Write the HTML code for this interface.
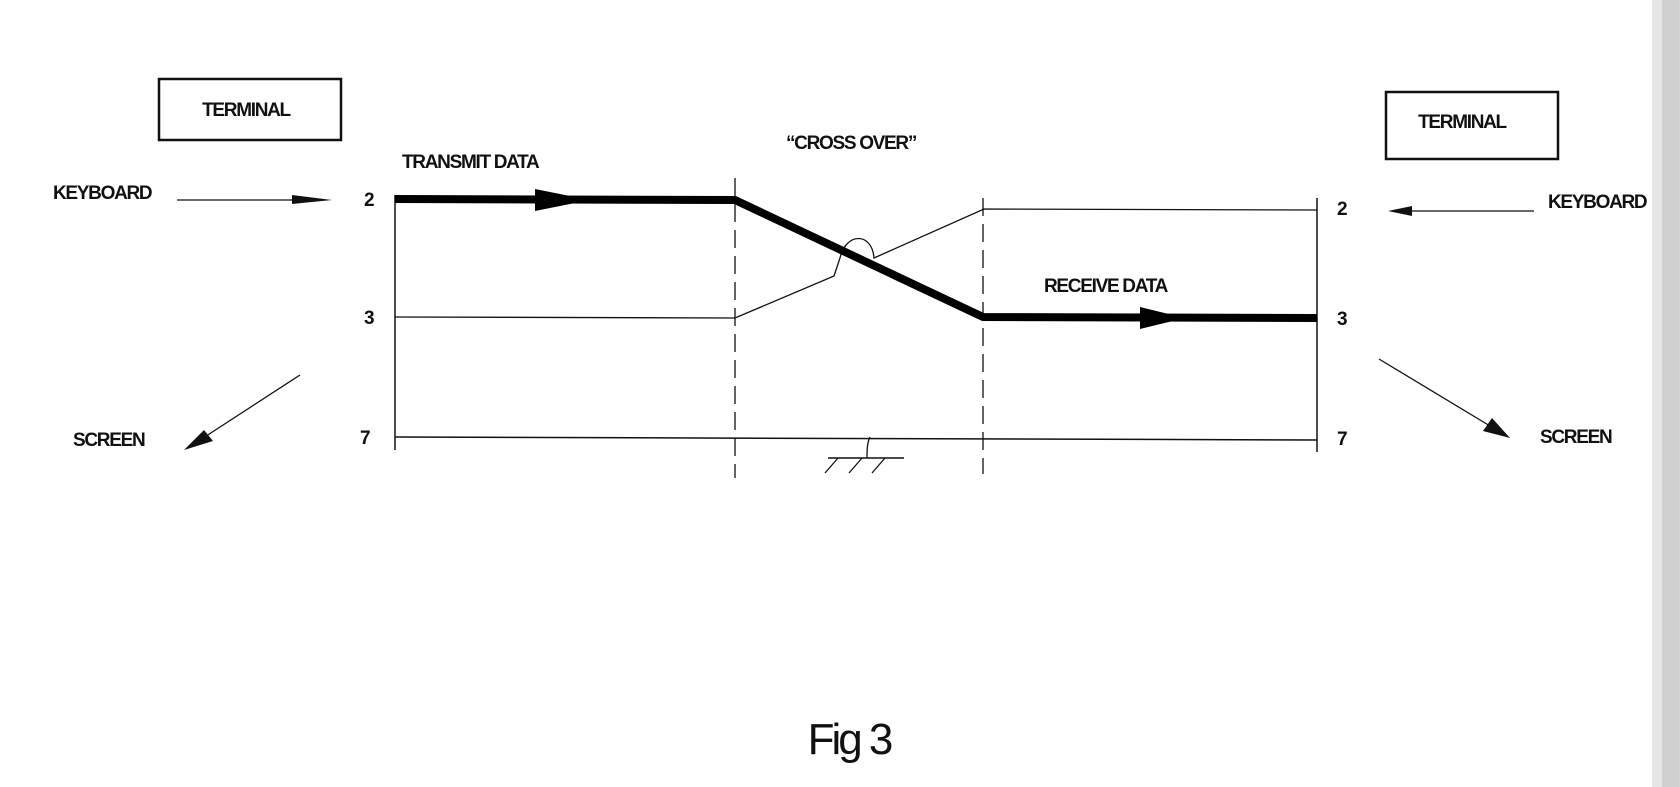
<!DOCTYPE html>
<html><head><meta charset="utf-8"><style>
html,body{margin:0;padding:0;background:#fff;}
body{width:1679px;height:787px;overflow:hidden;position:relative;}
svg{position:absolute;left:0;top:0;}
text{font-family:"Liberation Sans",sans-serif;font-weight:bold;font-size:19px;fill:#111;letter-spacing:-1.3px;}
</style></head><body>
<svg width="1679" height="787" viewBox="0 0 1679 787">
<rect x="1652" y="0" width="27" height="787" fill="#e6e6e6"/>
<rect x="1662" y="0" width="17" height="787" fill="#d0d0d0"/>
<!-- boxes -->
<rect x="159" y="79" width="182" height="61" fill="none" stroke="#111" stroke-width="2.5"/>
<text x="246" y="116" text-anchor="middle">TERMINAL</text>
<rect x="1386" y="92" width="172" height="67" fill="none" stroke="#111" stroke-width="2.5"/>
<text x="1462" y="128" text-anchor="middle">TERMINAL</text>
<text x="851" y="149" text-anchor="middle">“CROSS OVER”</text>
<text x="402" y="168">TRANSMIT DATA</text>
<text x="1044" y="292">RECEIVE DATA</text>
<text x="53" y="199">KEYBOARD</text>
<text x="1548" y="208">KEYBOARD</text>
<text x="73" y="446">SCREEN</text>
<text x="1540" y="443">SCREEN</text>
<text x="364" y="206">2</text>
<text x="364" y="324">3</text>
<text x="360" y="444">7</text>
<text x="1337" y="215">2</text>
<text x="1337" y="325">3</text>
<text x="1337" y="445">7</text>
<!-- keyboard arrows -->
<line x1="177" y1="200" x2="310" y2="200" stroke="#111" stroke-width="1.3"/>
<polygon points="292,195 332,200 292,204" fill="#111"/>
<line x1="1534" y1="211" x2="1405" y2="211" stroke="#111" stroke-width="1.3"/>
<polygon points="1388,211 1412,206 1412,216" fill="#111"/>
<!-- screen arrows -->
<line x1="300" y1="375" x2="200" y2="440" stroke="#111" stroke-width="1.3"/>
<polygon points="184,450 204,430 213,441" fill="#111"/>
<line x1="1379" y1="359" x2="1495" y2="429" stroke="#111" stroke-width="1.3"/>
<polygon points="1510,438 1483,431 1492,418" fill="#111"/>
<!-- verticals -->
<line x1="395" y1="195" x2="395" y2="450" stroke="#111" stroke-width="1.5"/>
<line x1="1317" y1="198" x2="1317" y2="452" stroke="#111" stroke-width="1.5"/>
<line x1="735" y1="178" x2="735" y2="478" stroke="#111" stroke-width="1.3" stroke-dasharray="18,8"/>
<line x1="983" y1="198" x2="983" y2="474" stroke="#111" stroke-width="1.3" stroke-dasharray="18,8"/>
<!-- thin lines -->
<path d="M395,317 L735,318 L834,276 L840,258 C846,232 872,232 874,258 L984,209 L1317,210" fill="none" stroke="#111" stroke-width="1.3"/>
<line x1="395" y1="437" x2="1317" y2="440" stroke="#111" stroke-width="1.5"/>
<!-- thick line -->
<polyline points="395,199 735,200 983,317 1317,318" fill="none" stroke="#000" stroke-width="8" stroke-linejoin="round"/>
<polygon points="535,189 590,200 535,211" fill="#000"/>
<polygon points="1140,307 1185,318 1140,329" fill="#000"/>
<!-- ground -->
<path d="M870,437 C868,441 867,445 867,458" fill="none" stroke="#111" stroke-width="1.3"/>
<line x1="828" y1="458" x2="904" y2="458" stroke="#111" stroke-width="1.5"/>
<line x1="838" y1="458" x2="825" y2="473" stroke="#111" stroke-width="1.3"/>
<line x1="862" y1="458" x2="849" y2="473" stroke="#111" stroke-width="1.3"/>
<line x1="885" y1="458" x2="872" y2="473" stroke="#111" stroke-width="1.3"/>
<text x="849" y="754" text-anchor="middle" style="font-weight:normal;font-size:44px;letter-spacing:-3px">Fig 3</text>
</svg>
</body></html>
